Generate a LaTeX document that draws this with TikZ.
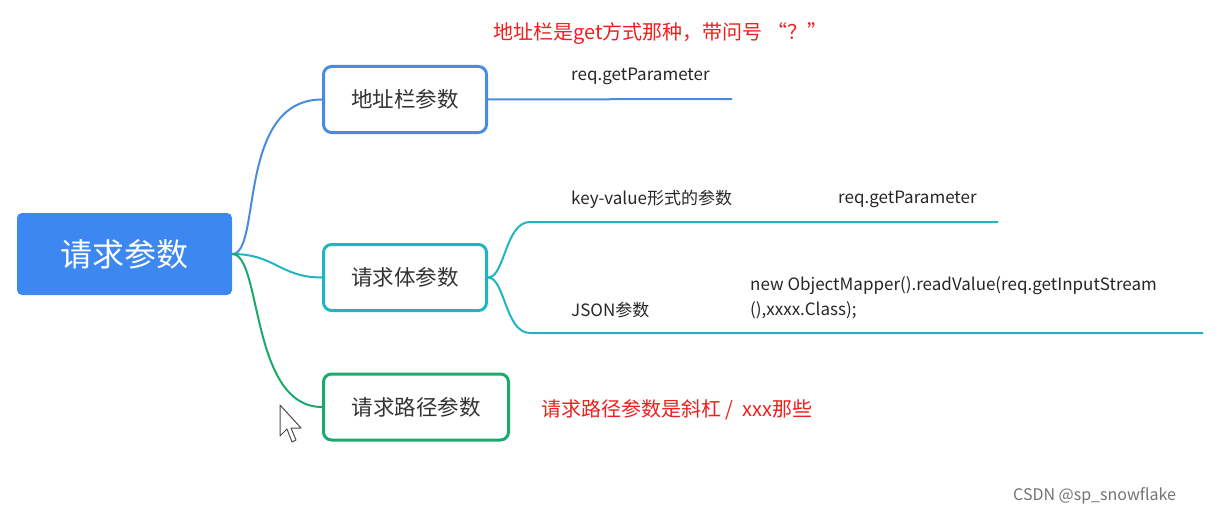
\documentclass[tikz,border=0pt]{standalone}
\usepackage{fontspec}
\setmainfont{Noto Sans CJK SC}
\definecolor{rootc}{HTML}{3C87F0}
\definecolor{bluec}{HTML}{4A8BE0}
\definecolor{tealc}{HTML}{1FB5C2}
\definecolor{greenc}{HTML}{1BAA6E}
\definecolor{redc}{HTML}{F01E1E}
\tikzset{
 sub/.style={draw,line width=3pt,rounded corners=8pt,fill=white,minimum height=66pt,anchor=west,font=\fontsize{21.5}{25}\selectfont,text=black!80,inner xsep=0pt},
 lbl/.style={anchor=west,font=\fontsize{17}{20}\selectfont,text=black!85,inner sep=0pt},
 red/.style={anchor=west,font=\fontsize{20}{23}\selectfont,text=redc,inner sep=0pt},
 br/.style={line width=2pt}
}
\begin{document}
\begin{tikzpicture}[x=1pt,y=-1pt]
\useasboundingbox (0,0) rectangle (1217,516);
\node[fill=rootc,rounded corners=5pt,minimum width=215pt,minimum height=82pt,text=white,font=\fontsize{32}{37}\selectfont] (root) at (124.5,254) {请求参数};
\node[sub,draw=bluec,minimum width=163pt] (a) at (322,99.5) {地址栏参数};
\node[sub,draw=tealc,minimum width=163pt] (b) at (322,277.5) {请求体参数};
\node[sub,draw=greenc,minimum width=185pt] (c) at (322,407) {请求路径参数};
\coordinate (r) at (root.east);
\draw[br,bluec] (r) .. controls (262,254) and (236,99.5) .. (a.west);
\draw[br,tealc] (r) .. controls (275,254) and (280,277.5) .. (b.west);
\draw[br,greenc] (r) .. controls (262,254) and (250,407) .. (c.west);
\coordinate (a1) at (732,99);
\draw[br,bluec] (a.east) -- (a1);
\coordinate (b1) at (530,222); \coordinate (b2) at (998,222);
\coordinate (b3) at (530,333); \coordinate (b4) at (1203,333);
\draw[br,tealc] (b.east) .. controls (505,277.5) and (505,222) .. (b1) -- (b2);
\draw[br,tealc] (b.east) .. controls (505,277.5) and (505,333) .. (b3) -- (b4);
\node[lbl] (t1) at (571,76) {req.getParameter};
\node[lbl] (t2) at (571,199) {key-value形式的参数};
\node[lbl] (t3) at (838,199) {req.getParameter};
\node[lbl] (t4) at (571,310) {JSON参数};
\node[lbl] (t5) at (750,286) {new ObjectMapper().readValue(req.getInputStream};
\node[lbl] (t6) at (750,310) {(),xxxx.Class);};
\node[red] (r1) at (493,34) {地址栏是get方式那种，带问号 “？”};
\node[red] (r2) at (541,410) {请求路径参数是斜杠 /\ \ xxx那些};
\node[anchor=west,font=\fontsize{16}{19}\selectfont,text=black!55,inner sep=0pt] (w) at (1013,496) {CSDN @sp\_snowflake};
\draw[fill=white,draw=black!70,line width=1pt,line join=round] (280,405) -- (280,436) -- (287,429) -- (292,442) -- (296,440) -- (291,428) -- (301,428) -- cycle;
\end{tikzpicture}
\end{document}
